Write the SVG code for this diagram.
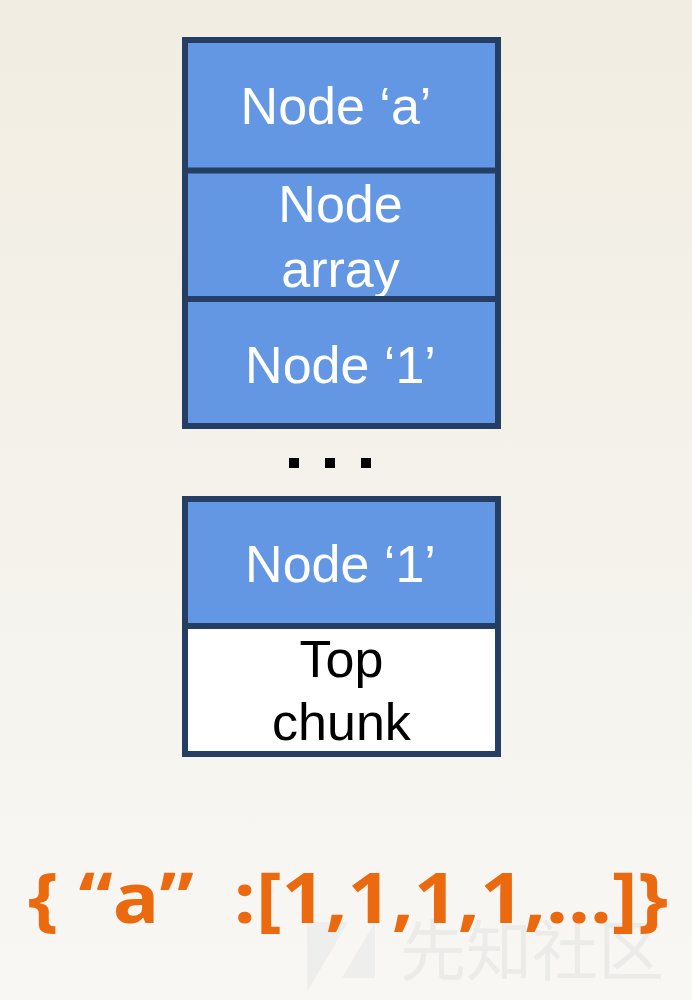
<svg xmlns="http://www.w3.org/2000/svg" width="692" height="1000" viewBox="0 0 692 1000">
<defs>
<linearGradient id="bg" x1="0" y1="0" x2="0" y2="1">
<stop offset="0" stop-color="#f1ede2"/>
<stop offset="1" stop-color="#f8f7f4"/>
</linearGradient>
<style>
.box{stroke:#253e63;stroke-width:6}
.blue{fill:#6397e3}
.white{fill:#ffffff}
.div{stroke:#253e63;stroke-width:6;fill:none}
.lw{font-family:"Liberation Sans",Arial,sans-serif;font-size:52px;fill:#ffffff;text-anchor:middle}
.lb{font-family:"Liberation Sans",Arial,sans-serif;font-size:52px;fill:#000000;text-anchor:middle}
.json{font-family:"Open Sans","Noto Sans",sans-serif;font-weight:bold;font-size:70px;fill:#ec6a0f}
.wm{font-family:"Noto Sans CJK SC",sans-serif;font-size:66px;fill:#ebebe9}
.wmlogo{fill:#eeeeec}
</style>
</defs>
<rect x="0" y="0" width="692" height="1000" fill="url(#bg)"/>
<g id="stack1">
<g id="node-a">
<rect class="blue" x="185" y="40" width="313" height="130"/>
<text class="lw" x="336" y="124">Node ‘a’</text>
</g>
<g id="node-array">
<rect class="blue" x="185" y="170" width="313" height="129"/>
<text class="lw" x="340.5" y="222">Node</text>
<text class="lw" x="340.5" y="287">array</text>
</g>
<g id="node-1a">
<rect class="blue" x="185" y="299" width="313" height="127"/>
<text class="lw" x="340.5" y="383">Node ‘1’</text>
</g>
<rect class="box" x="185" y="40" width="313" height="386" fill="none"/>
<line class="div" x1="185" y1="170.5" x2="498" y2="170.5"/>
<line class="div" x1="185" y1="299" x2="498" y2="299"/>
</g>
<g id="ellipsis">
<rect x="289" y="458" width="10" height="10" fill="#000"/>
<rect x="325" y="458" width="10" height="10" fill="#000"/>
<rect x="361" y="458" width="10" height="10" fill="#000"/>
</g>
<g id="stack2">
<g id="node-1b">
<rect class="blue" x="185" y="499" width="313" height="127"/>
<text class="lw" x="340.5" y="582">Node ‘1’</text>
</g>
<g id="top-chunk">
<rect class="white" x="186" y="626" width="312" height="128"/>
<text class="lb" x="341.5" y="677">Top</text>
<text class="lb" x="341.5" y="740">chunk</text>
</g>
<rect class="box" x="185" y="499" width="313" height="255" fill="none"/>
<line class="div" x1="185" y1="626" x2="498" y2="626"/>
</g>
<g id="watermark">
<polygon class="wmlogo" points="307,922 348,922 307,992"/>
<polygon class="wmlogo" points="375,922 375,978 342,978"/>
<text class="wm" x="400" y="975">先知社区</text>
</g>
<g id="json">
<text class="json" x="28" y="923" textLength="640" lengthAdjust="spacingAndGlyphs" xml:space="preserve">{ “a”  :[1,1,1,1,…]}</text>
</g>
</svg>
